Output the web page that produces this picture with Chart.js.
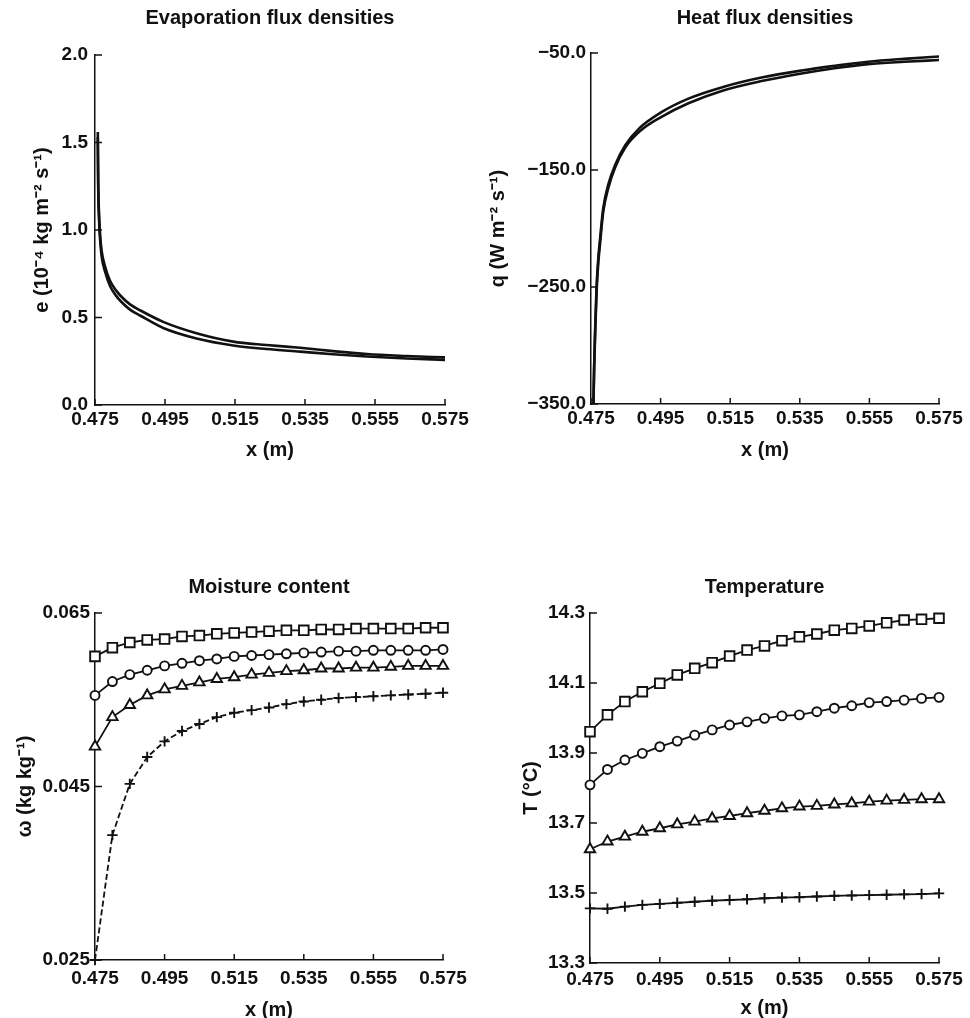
<!DOCTYPE html>
<html>
<head>
<meta charset="utf-8">
<script src="https://cdn.jsdelivr.net/npm/chart.js@4.4.1/dist/chart.umd.min.js"></script>
<style>
  html, body { margin: 0; padding: 0; background: #fff; overflow: hidden; }
  #page { position: relative; width: 970px; height: 1018px; }
  canvas { position: absolute; }
</style>
</head>
<body>
<div id="page">
  <canvas id="evap" width="485" height="460" style="left:0;top:0"></canvas>
  <canvas id="heat" width="485" height="460" style="left:485px;top:0"></canvas>
  <canvas id="moist" width="485" height="460" style="left:0;top:560px"></canvas>
  <canvas id="temp" width="485" height="460" style="left:485px;top:560px"></canvas>
</div>
<script>
// x axis, same on all four panels
const xTicks = [0.475, 0.495, 0.515, 0.535, 0.555, 0.575];
const xTickLabels = ['0.475', '0.495', '0.515', '0.535', '0.555', '0.575'];

// evaporation flux densities (two runs)
const evapX = [0.4758, 0.4759, 0.4761, 0.4764, 0.4769, 0.4779, 0.4793, 0.4810, 0.4825, 0.4850,
               0.4880, 0.4945, 0.5040, 0.5145, 0.5240, 0.5336, 0.5430, 0.5527, 0.5640, 0.5750];
const evapA = [1.56, 1.30, 1.12, 0.99, 0.88, 0.79, 0.71, 0.655, 0.62, 0.575,
               0.54, 0.475, 0.41, 0.362, 0.343, 0.327, 0.308, 0.291, 0.28, 0.272];
const evapB = [1.53, 1.27, 1.09, 0.96, 0.85, 0.76, 0.68, 0.625, 0.59, 0.545,
               0.51, 0.44, 0.38, 0.34, 0.32, 0.305, 0.29, 0.277, 0.266, 0.258];
const evapTicks = [0, 0.5, 1.0, 1.5, 2.0];
const evapTickLabels = ['0.0', '0.5', '1.0', '1.5', '2.0'];

// heat flux densities (two runs)
const heatX = [0.4757, 0.4759, 0.4762, 0.4766, 0.4771, 0.4776, 0.4785, 0.4800, 0.4819, 0.4848,
               0.4890, 0.4950, 0.5030, 0.5130, 0.5240, 0.5355, 0.5450, 0.5546, 0.5650, 0.5750];
const heatA = [-350, -318, -285, -250, -225, -209, -183, -162, -146, -129,
               -114, -101, -89, -79, -71, -65, -61, -57.5, -55, -53];
const heatB = [-350, -321, -289, -254, -229, -213, -186, -165, -148, -131,
               -117, -105, -93, -82, -74, -67.5, -63, -59.5, -57.5, -56];
const heatTicks = [-350, -250, -150, -50];
const heatTickLabels = ['\u2212350.0', '\u2212250.0', '\u2212150.0', '\u221250.0'];

// node positions for the marked curves
const nodeX = [0.475, 0.480, 0.485, 0.490, 0.495, 0.500, 0.505, 0.510, 0.515, 0.520, 0.525,
               0.530, 0.535, 0.540, 0.545, 0.550, 0.555, 0.560, 0.565, 0.570, 0.575];

// moisture content
const moistSquare = [0.0600, 0.0610, 0.0616, 0.0619, 0.0620, 0.0623, 0.0624, 0.0626, 0.0627, 0.0628, 0.0629,
                     0.0630, 0.0630, 0.0631, 0.0631, 0.0632, 0.0632, 0.0632, 0.0632, 0.0633, 0.0633];
const moistCircle = [0.0555, 0.0571, 0.0579, 0.0584, 0.0589, 0.0592, 0.0595, 0.0597, 0.0600, 0.0601, 0.0602,
                     0.0603, 0.0604, 0.0605, 0.0606, 0.0606, 0.0607, 0.0607, 0.0607, 0.0607, 0.0608];
const moistTriangle = [0.0496, 0.0530, 0.0544, 0.0555, 0.0562, 0.0566, 0.0570, 0.0574, 0.0576, 0.0579, 0.0581,
                       0.0583, 0.0584, 0.0586, 0.0586, 0.0587, 0.0587, 0.0588, 0.0589, 0.0589, 0.0589];
const moistPlus = [0.0250, 0.0394, 0.0453, 0.0484, 0.0502, 0.0514, 0.0522, 0.0530, 0.0535, 0.0538, 0.0541,
                   0.0545, 0.0548, 0.0550, 0.0552, 0.0553, 0.0554, 0.0555, 0.0556, 0.0557, 0.0558];
const moistTicks = [0.025, 0.045, 0.065];
const moistTickLabels = ['0.025', '0.045', '0.065'];

// temperature
const tempSquare = [13.961, 14.009, 14.047, 14.075, 14.099, 14.123, 14.142, 14.158, 14.177, 14.194, 14.206,
                    14.221, 14.232, 14.240, 14.251, 14.256, 14.263, 14.272, 14.280, 14.282, 14.285];
const tempCircle = [13.809, 13.853, 13.880, 13.899, 13.918, 13.934, 13.951, 13.966, 13.980, 13.989, 13.999,
                    14.006, 14.009, 14.018, 14.028, 14.035, 14.044, 14.047, 14.051, 14.056, 14.059];
const tempTriangle = [13.625, 13.647, 13.661, 13.675, 13.685, 13.696, 13.704, 13.713, 13.720, 13.728, 13.735,
                      13.742, 13.747, 13.749, 13.753, 13.756, 13.761, 13.764, 13.766, 13.768, 13.768];
const tempPlus = [13.456, 13.455, 13.461, 13.466, 13.469, 13.472, 13.475, 13.478, 13.480, 13.482, 13.485,
                  13.487, 13.488, 13.490, 13.492, 13.493, 13.494, 13.495, 13.496, 13.497, 13.499];
const tempTicks = [13.3, 13.5, 13.7, 13.9, 14.1, 14.3];
const tempTickLabels = ['13.3', '13.5', '13.7', '13.9', '14.1', '14.3'];

const INK = '#111';
Chart.defaults.font.family = '"Liberation Sans", Arial, Helvetica, sans-serif';
Chart.defaults.color = INK;

function pts(xs, ys) {
  return xs.map((x, i) => ({ x: x, y: ys[i] }));
}

// plain thick curve (top panels)
function curve(xs, ys) {
  return {
    data: pts(xs, ys), showLine: true, borderColor: INK, borderWidth: 2.6,
    pointRadius: 0, cubicInterpolationMode: 'monotone', fill: false
  };
}

// curve with open markers (bottom panels)
function marked(ys, style, radius, dash) {
  return {
    data: pts(nodeX, ys), showLine: true, borderColor: INK, borderWidth: 1.8,
    borderDash: dash || [], pointStyle: style, pointRadius: radius,
    pointBorderWidth: 1.9, pointBorderColor: INK, pointBackgroundColor: '#fff',
    clip: false
  };
}

// short tick marks pointing into the plot
const inwardTicks = {
  id: 'inwardTicks',
  afterDatasetsDraw(chart) {
    const { ctx, chartArea, scales } = chart;
    ctx.save();
    ctx.strokeStyle = INK;
    ctx.lineWidth = 1.5;
    scales.x.ticks.forEach(t => {
      const px = scales.x.getPixelForValue(t.value);
      ctx.beginPath();
      ctx.moveTo(px, chartArea.bottom);
      ctx.lineTo(px, chartArea.bottom - 6);
      ctx.stroke();
    });
    scales.y.ticks.forEach(t => {
      const py = scales.y.getPixelForValue(t.value);
      ctx.beginPath();
      ctx.moveTo(chartArea.left, py);
      ctx.lineTo(chartArea.left + 7, py);
      ctx.stroke();
    });
    ctx.restore();
  }
};

function makePanel(id, p) {
  return new Chart(document.getElementById(id), {
    type: 'scatter',
    data: { datasets: p.datasets },
    options: {
      responsive: false,
      animation: false,
      events: [],
      layout: { padding: { left: 0, right: p.padRight, top: 0, bottom: 0 } },
      plugins: {
        legend: { display: false },
        tooltip: { enabled: false },
        title: {
          display: true, text: p.title, fullSize: false, color: INK,
          font: { size: 20, weight: 'bold' },
          padding: { top: p.titleTop, bottom: p.titleBottom }
        }
      },
      scales: {
        x: {
          type: 'linear', min: 0.475, max: 0.575,
          afterBuildTicks: s => { s.ticks = xTicks.map(v => ({ value: v })); },
          afterFit: s => { s.height = p.xHeight; },
          grid: { display: false, drawTicks: false },
          border: { display: true, color: INK, width: 1.5 },
          ticks: {
            padding: p.xPad, autoSkip: false, maxRotation: 0, color: INK,
            font: { size: 19, weight: 'bold' },
            callback: (v, i) => xTickLabels[i]
          },
          title: {
            display: true, text: 'x (m)', color: INK,
            font: { size: 20, weight: 'bold', lineHeight: 1 },
            padding: { top: 0, bottom: p.xTitleBottom }
          }
        },
        y: {
          type: 'linear', min: p.yTicks[0], max: p.yTicks[p.yTicks.length - 1],
          afterBuildTicks: s => { s.ticks = p.yTicks.map(v => ({ value: v })); },
          afterFit: s => { s.width = p.yWidth; },
          grid: { display: false, drawTicks: false },
          border: { display: true, color: INK, width: 1.5 },
          ticks: {
            padding: p.yPad, color: INK, font: { size: 19, weight: 'bold' },
            callback: (v, i) => p.yTickLabels[i]
          },
          title: {
            display: true, text: p.yTitle, color: INK,
            font: { size: 20, weight: 'bold', lineHeight: 1 },
            padding: { top: p.yTitleTop, bottom: 0 }
          }
        }
      }
    },
    plugins: [inwardTicks]
  });
}

makePanel('evap', {
  title: 'Evaporation flux densities',
  titleTop: 6, titleBottom: 25,
  padRight: 40, yWidth: 95, xHeight: 55, xPad: 3, yPad: 7, xTitleBottom: 0,
  yTicks: evapTicks, yTickLabels: evapTickLabels,
  yTitle: 'e (10\u207B\u2074 kg m\u207B\u00B2 s\u207B\u00B9)', yTitleTop: 32,
  datasets: [curve(evapX, evapA), curve(evapX, evapB)]
});

makePanel('heat', {
  title: 'Heat flux densities',
  titleTop: 6, titleBottom: 23,
  padRight: 31, yWidth: 106, xHeight: 56, xPad: 3, yPad: 5, xTitleBottom: 0,
  yTicks: heatTicks, yTickLabels: heatTickLabels,
  yTitle: 'q (W m\u207B\u00B2 s\u207B\u00B9)', yTitleTop: 3,
  datasets: [curve(heatX, heatA), curve(heatX, heatB)]
});

makePanel('moist', {
  title: 'Moisture content',
  titleTop: 15, titleBottom: 14,
  padRight: 42, yWidth: 95, xHeight: 60, xPad: 7, yPad: 5, xTitleBottom: 0,
  yTicks: moistTicks, yTickLabels: moistTickLabels,
  yTitle: '\u03C9 (kg kg\u207B\u00B9)', yTitleTop: 15,
  datasets: [
    marked(moistSquare, 'rect', 6.8),
    marked(moistCircle, 'circle', 4.5),
    marked(moistTriangle, 'triangle', 6),
    marked(moistPlus, 'cross', 5.2, [6, 3])
  ]
});

makePanel('temp', {
  title: 'Temperature',
  titleTop: 15, titleBottom: 14,
  padRight: 31, yWidth: 105, xHeight: 57, xPad: 5, yPad: 5, xTitleBottom: 2,
  yTicks: tempTicks, yTickLabels: tempTickLabels,
  yTitle: 'T (\u00B0C)', yTitleTop: 36,
  datasets: [
    marked(tempSquare, 'rect', 6.8),
    marked(tempCircle, 'circle', 4.5),
    marked(tempTriangle, 'triangle', 6),
    marked(tempPlus, 'cross', 5.2)
  ]
});
</script>
</body>
</html>
